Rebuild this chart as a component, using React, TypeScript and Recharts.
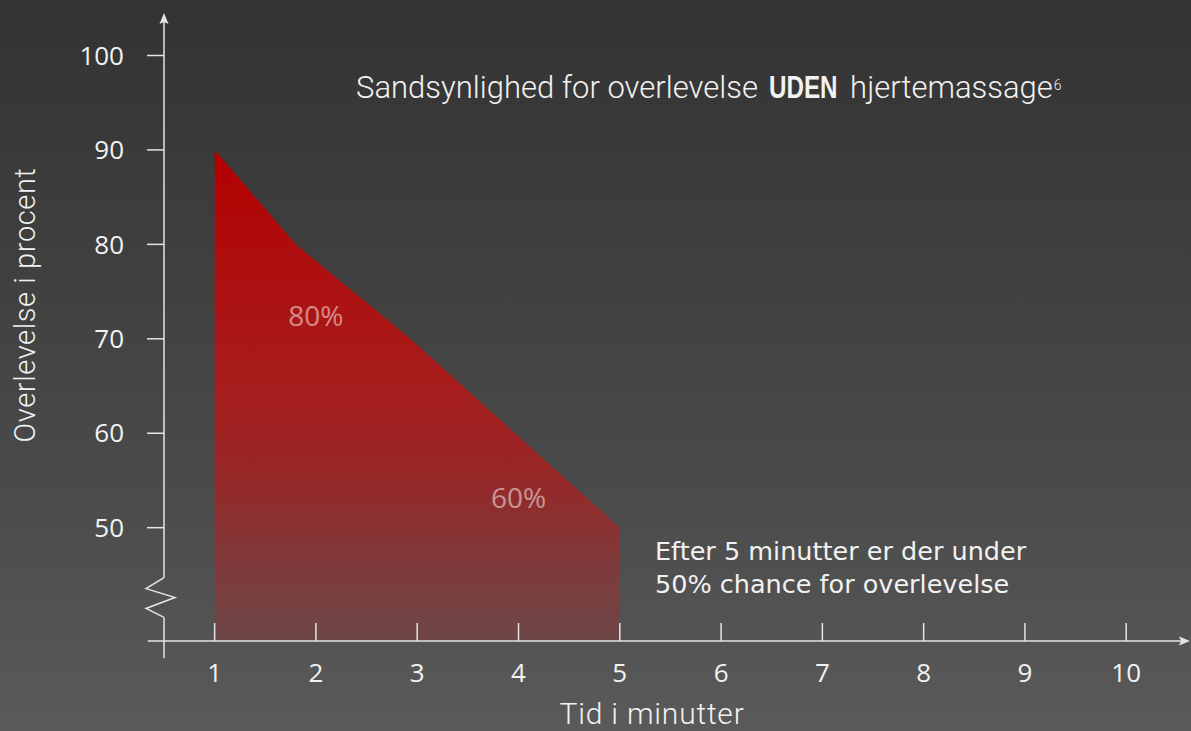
import { AreaChart, Area, XAxis, YAxis, ReferenceLine, ReferenceDot } from "recharts";

// survival curve
const minutes = [1, 1.8, 2.9, 5];
const survival = [90, 80, 70.3, 50];

const minuteTicks = [1, 2, 3, 4, 5, 6, 7, 8, 9, 10];
const percentTicks = [50, 60, 70, 80, 90, 100];

const calloutText = ["80%", "60%"];
const calloutMinute = [2, 4];
const calloutPercent = [72.4, 53.1];

const data = minutes.map((m, i) => ({ minute: m, survival: survival[i] }));

const AXIS = "#e4e4e4";
const TEXT = "#f2f2f2";

function ArrowUpLine(props: any) {
  const { x1, y1, x2, y2 } = props;
  return (
    <g>
      <line x1={x1} y1={y1} x2={x2} y2={y2 + 8} stroke={AXIS} strokeWidth={1.5} />
      <path d={`M${x2},${y2} L${x2 + 4.5},${y2 + 11} L${x2},${y2 + 9} L${x2 - 4.5},${y2 + 11} Z`} fill={AXIS} />
    </g>
  );
}

function ArrowRightLine(props: any) {
  const { x1, y1, x2, y2 } = props;
  return (
    <g>
      <line x1={x1} y1={y1} x2={x2 - 8} y2={y2} stroke={AXIS} strokeWidth={1.5} />
      <path d={`M${x2},${y2} L${x2 - 11},${y2 - 4.5} L${x2 - 9},${y2} L${x2 - 11},${y2 + 4.5} Z`} fill={AXIS} />
    </g>
  );
}

function ZigZag(props: any) {
  const { x1, y1, y2 } = props;
  const top = Math.min(y1, y2);
  const h = Math.abs(y2 - y1);
  const pts = [
    [x1, top],
    [x1 - 18, top + h * 0.275],
    [x1 + 11, top + h * 0.5],
    [x1 - 18, top + h * 0.775],
    [x1, top + h],
  ];
  return <polyline points={pts.map((p) => p.join(",")).join(" ")} fill="none" stroke={AXIS} strokeWidth={1.5} />;
}

function PlainLine(props: any) {
  const { x1, y1, x2, y2 } = props;
  return <line x1={x1} y1={y1} x2={x2} y2={y2} stroke={AXIS} strokeWidth={1.5} />;
}

function MinuteTick(props: any) {
  const { x, y, payload } = props;
  return (
    <g>
      <line x1={x} y1={y - 18} x2={x} y2={y} stroke={AXIS} strokeWidth={1.5} />
      <text x={x} y={y + 41} textAnchor="middle" fill={TEXT} fontSize={26} fontFamily="Open Sans">
        {payload.value}
      </text>
    </g>
  );
}

export default function App() {
  return (
    <div
      style={{
        position: "absolute",
        left: 0,
        top: 0,
        width: 1191,
        height: 731,
        overflow: "hidden",
        background: "linear-gradient(180deg, #333333 0%, #3f3f3f 35%, #4c4c4c 70%, #5a5a5a 100%)",
        fontFamily: "Roboto",
      }}
    >
      <AreaChart width={1191} height={731} data={data} margin={{ top: 13, right: 4, bottom: 30, left: 0 }}>
        <defs>
          <linearGradient id="redFade" x1="0" y1="0" x2="0" y2="1">
            <stop offset="0%" stopColor="#b30000" />
            <stop offset="47%" stopColor="#a81c1c" />
            <stop offset="67%" stopColor="#962828" />
            <stop offset="84%" stopColor="#80393a" />
            <stop offset="100%" stopColor="#6d4646" />
          </linearGradient>
        </defs>
        <XAxis
          type="number"
          dataKey="minute"
          domain={[0.5, 10.6]}
          ticks={minuteTicks}
          allowDataOverflow
          axisLine={false}
          tickLine={false}
          tickSize={0}
          tickMargin={0}
          height={60}
          tick={<MinuteTick />}
        />
        <YAxis
          type="number"
          domain={[38, 104.5]}
          ticks={percentTicks}
          allowDataOverflow
          width={164}
          axisLine={false}
          tickLine={{ stroke: AXIS, strokeWidth: 1.5 }}
          tickSize={17}
          tickMargin={23}
          tick={{ fill: TEXT, fontSize: 26, fontFamily: "Open Sans" }}
        />
        <Area
          type="linear"
          dataKey="survival"
          stroke="none"
          fill="url(#redFade)"
          fillOpacity={1}
          dot={false}
          activeDot={false}
          isAnimationActive={false}
        />
        <ReferenceLine segment={[{ x: 0.5, y: 44.7 }, { x: 0.5, y: 104.5 }]} ifOverflow="visible" shape={ArrowUpLine} />
        <ReferenceLine segment={[{ x: 0.5, y: 40.5 }, { x: 0.5, y: 44.7 }]} ifOverflow="visible" shape={ZigZag} />
        <ReferenceLine segment={[{ x: 0.5, y: 36.2 }, { x: 0.5, y: 40.5 }]} ifOverflow="visible" shape={PlainLine} />
        <ReferenceLine segment={[{ x: 0.34, y: 38 }, { x: 10.63, y: 38 }]} ifOverflow="visible" shape={ArrowRightLine} />
        {calloutText.map((t, i) => (
          <ReferenceDot
            key={t}
            x={calloutMinute[i]}
            y={calloutPercent[i]}
            r={0}
            ifOverflow="visible"
            label={{ value: t, position: "center", fill: "rgba(255,255,255,0.5)", fontSize: 28, fontFamily: "Open Sans" }}
          />
        ))}
      </AreaChart>

      <div
        style={{
          position: "absolute",
          left: 356,
          top: 69,
          color: TEXT,
          fontSize: 31,
          fontWeight: 300,
          whiteSpace: "nowrap",
          lineHeight: "38px",
        }}
      >
        Sandsynlighed for overlevelse{" "}
        <span style={{ display: "inline-block", width: 69, marginLeft: 3, marginRight: 5 }}>
          <span
            style={{
              display: "inline-block",
              fontFamily: "Liberation Sans",
              fontWeight: 700,
              fontSize: 31,
              transform: "scaleX(0.78)",
              transformOrigin: "left center",
            }}
          >
            UDEN
          </span>
        </span>{" "}
        hjertemassage
        <sup style={{ fontSize: 14, verticalAlign: "top", position: "relative", top: -3, marginLeft: 1 }}>6</sup>
      </div>

      <div
        style={{
          position: "absolute",
          left: 655,
          top: 535,
          color: TEXT,
          fontSize: 25.5,
          fontFamily: "DejaVu Sans",
          lineHeight: "33px",
          whiteSpace: "nowrap",
        }}
      >
        Efter 5 minutter er der under
        <br />
        50% chance for overlevelse
      </div>

      <div
        style={{
          position: "absolute",
          left: 652,
          top: 714,
          transform: "translate(-50%, -50%)",
          color: TEXT,
          fontSize: 30,
          fontWeight: 300,
          letterSpacing: 0.8,
          lineHeight: 1,
          whiteSpace: "nowrap",
        }}
      >
        Tid i minutter
      </div>

      <div
        style={{
          position: "absolute",
          left: 25,
          top: 305,
          transform: "translate(-50%, -50%) rotate(-90deg)",
          color: TEXT,
          fontSize: 29,
          fontWeight: 300,
          letterSpacing: 0.6,
          whiteSpace: "nowrap",
        }}
      >
        Overlevelse i procent
      </div>
    </div>
  );
}
